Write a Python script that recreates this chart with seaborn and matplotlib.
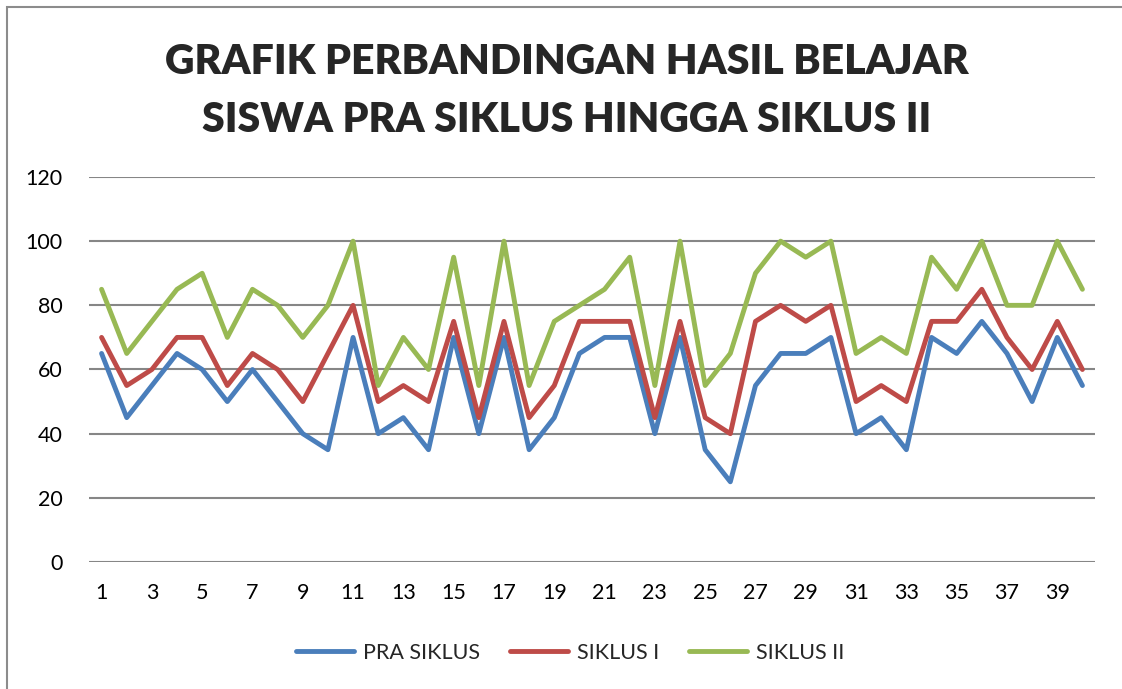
import pandas as pd
import numpy as np
import matplotlib
matplotlib.use('Agg')
import matplotlib.pyplot as plt
import seaborn as sns
from matplotlib.patches import Rectangle

# Data nilai siswa
siswa = list(range(1, 41))
pra_siklus = [65, 45, 55, 65, 60, 50, 60, 50, 40, 35, 70, 40, 45, 35, 70, 40, 70, 35, 45, 65,
              70, 70, 40, 70, 35, 25, 55, 65, 65, 70, 40, 45, 35, 70, 65, 75, 65, 50, 70, 55]
siklus_1 = [70, 55, 60, 70, 70, 55, 65, 60, 50, 65, 80, 50, 55, 50, 75, 45, 75, 45, 55, 75,
            75, 75, 45, 75, 45, 40, 75, 80, 75, 80, 50, 55, 50, 75, 75, 85, 70, 60, 75, 60]
siklus_2 = [85, 65, 75, 85, 90, 70, 85, 80, 70, 80, 100, 55, 70, 60, 95, 55, 100, 55, 75, 80,
            85, 95, 55, 100, 55, 65, 90, 100, 95, 100, 65, 70, 65, 95, 85, 100, 80, 80, 100, 85]
series_names = ['PRA SIKLUS', 'SIKLUS I', 'SIKLUS II']
colors = ['#4A7EBB', '#BE4B48', '#98B954']

df = pd.DataFrame({'siswa': siswa, 'PRA SIKLUS': pra_siklus,
                   'SIKLUS I': siklus_1, 'SIKLUS II': siklus_2})
df_long = df.melt(id_vars='siswa', var_name='tahap', value_name='nilai')

sns.set_style('white')
plt.rcParams['font.family'] = ['Lato', 'DejaVu Sans']

W, H = 1122, 689
fig = plt.figure(figsize=(W / 100, H / 100), dpi=100)
ax = fig.add_axes([89 / W, (H - 562) / H, (1095 - 89) / W, (562 - 177) / H])

sns.lineplot(data=df_long, x='siswa', y='nilai', hue='tahap', hue_order=series_names,
             palette=colors, linewidth=3.5, ax=ax, legend=False)

ax.set_xlim(0.5, 40.5)
ax.set_ylim(0, 120)
ax.set_yticks(np.arange(0, 121, 20))
ax.set_xticks(np.arange(1, 40, 2))
ax.yaxis.grid(True, color='#868686', linewidth=1.5)
ax.set_axisbelow(True)
for s in ax.spines.values():
    s.set_visible(False)
ax.tick_params(axis='both', length=0, labelsize=15.5, colors='black')
ax.tick_params(axis='y', pad=19)
ax.tick_params(axis='x', pad=15)
ax.set_xlabel('')
ax.set_ylabel('')

# Judul
fig.text(567 / W, 1 - 62 / H, 'GRAFIK PERBANDINGAN HASIL BELAJAR', ha='center', va='center',
         fontsize=29.5, fontweight='heavy')
fig.text(567 / W, 1 - 120 / H, 'SISWA PRA SIKLUS HINGGA SIKLUS II', ha='center', va='center',
         fontsize=29.5, fontweight='heavy')

# Legend
handles = [plt.Line2D([], [], color=c, linewidth=3.5) for c in colors]
fig.legend(handles, series_names, loc='center', bbox_to_anchor=(570 / W, 1 - 653 / H),
           ncol=3, frameon=False, fontsize=15.5, handlelength=2.7, handletextpad=0.4,
           columnspacing=1.4)

# Bingkai chart
fig.patches.append(Rectangle((6.5 / W, -0.1), 1.2, 1 - 6.5 / H + 0.1, transform=fig.transFigure,
                             fill=False, edgecolor='#8C8C8C', linewidth=1.5))

fig.savefig('out.png', dpi=100)
